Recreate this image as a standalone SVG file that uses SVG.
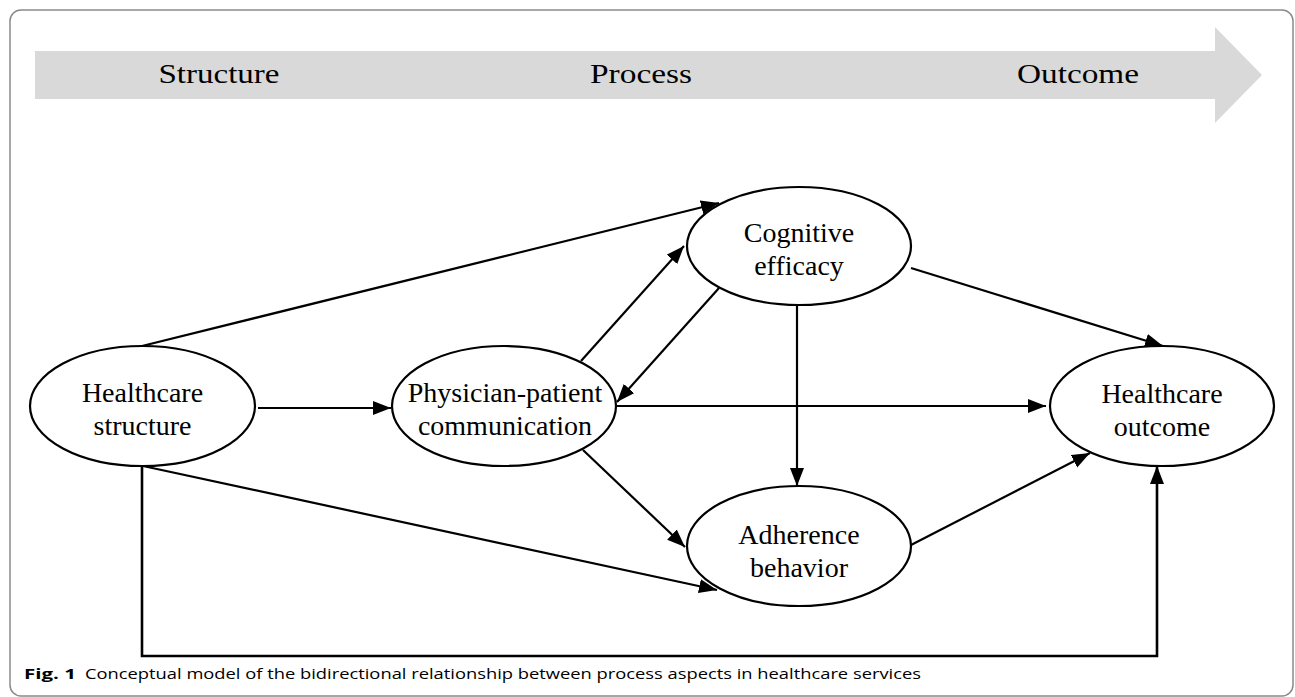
<svg xmlns="http://www.w3.org/2000/svg" width="1295" height="697" viewBox="0 0 1295 697">
  <style>
    .node ellipse { fill: #ffffff; stroke: #000000; stroke-width: 2.2; }
    .node text { font-family: "Liberation Serif", "Times New Roman", serif; font-size: 28px; fill: #000000; text-anchor: middle; }
    .stage { font-family: "Liberation Serif", "Times New Roman", serif; font-size: 28px; fill: #000000; text-anchor: middle; }
    .edge { fill: none; stroke: #000000; stroke-width: 2.2; }
    .cap { font-family: "Open Sans", "Noto Sans", sans-serif; font-size: 15px; fill: #000000; }
  </style>
  <defs>
    <marker id="arr" markerUnits="userSpaceOnUse" markerWidth="19" markerHeight="15" refX="18" refY="7" orient="auto">
      <path d="M0,0 L18,7 L0,14 z" fill="#000000"/>
    </marker>
  </defs>

  <rect x="0" y="0" width="1295" height="697" fill="#ffffff"/>
  <rect id="frame" x="10" y="10" width="1283" height="686" rx="11" ry="11" fill="none" stroke="#8a8a8a" stroke-width="1.5"/>

  <g id="stage-arrow">
    <polygon points="35,51 1215,51 1215,27 1262,75 1215,123 1215,99 35,99" fill="#d9d9d9"/>
    <text class="stage" x="219" y="83" textLength="121" lengthAdjust="spacingAndGlyphs">Structure</text>
    <text class="stage" x="641" y="83" textLength="102" lengthAdjust="spacingAndGlyphs">Process</text>
    <text class="stage" x="1078" y="83" textLength="122" lengthAdjust="spacingAndGlyphs">Outcome</text>
  </g>

  <g id="connectors">
    <line class="edge" x1="142" y1="346" x2="719" y2="203" marker-end="url(#arr)"/>
    <line class="edge" x1="258" y1="408" x2="391" y2="408" marker-end="url(#arr)"/>
    <line class="edge" x1="581" y1="361" x2="684" y2="246" marker-end="url(#arr)"/>
    <line class="edge" x1="719" y1="288" x2="617" y2="402" marker-end="url(#arr)"/>
    <line class="edge" x1="615" y1="406" x2="1046" y2="406" marker-end="url(#arr)"/>
    <line class="edge" x1="583" y1="450" x2="685" y2="547" marker-end="url(#arr)"/>
    <line class="edge" x1="143" y1="466" x2="717" y2="590" marker-end="url(#arr)"/>
    <line class="edge" x1="797" y1="305" x2="797" y2="486" marker-end="url(#arr)"/>
    <line class="edge" x1="911" y1="268" x2="1163" y2="346" marker-end="url(#arr)"/>
    <line class="edge" x1="911" y1="545" x2="1090" y2="453" marker-end="url(#arr)"/>
    <polyline class="edge" style="stroke-width:2.6" points="142,466 142,656 1157,656 1157,466" marker-end="url(#arr)"/>
  </g>

  <g id="healthcare-structure" class="node">
    <ellipse cx="142.5" cy="406" rx="112.5" ry="60"/>
    <text x="142.5" y="402">Healthcare</text>
    <text x="142.5" y="435">structure</text>
  </g>

  <g id="physician-patient-communication" class="node">
    <ellipse cx="504" cy="406" rx="112" ry="60"/>
    <text x="505" y="402">Physician-patient</text>
    <text x="505" y="435">communication</text>
  </g>

  <g id="cognitive-efficacy" class="node">
    <ellipse cx="799" cy="246" rx="112" ry="59"/>
    <text x="799" y="242">Cognitive</text>
    <text x="799" y="275">efficacy</text>
  </g>

  <g id="adherence-behavior" class="node">
    <ellipse cx="799" cy="546" rx="112" ry="60"/>
    <text x="799" y="544">Adherence</text>
    <text x="799" y="577">behavior</text>
  </g>

  <g id="healthcare-outcome" class="node">
    <ellipse cx="1162" cy="406" rx="112" ry="60"/>
    <text x="1162" y="403">Healthcare</text>
    <text x="1162" y="436">outcome</text>
  </g>

  <g id="caption">
    <text class="cap" x="24" y="679" font-weight="bold" textLength="52" lengthAdjust="spacingAndGlyphs">Fig. 1</text>
    <text class="cap" x="85" y="679" textLength="836" lengthAdjust="spacingAndGlyphs">Conceptual model of the bidirectional relationship between process aspects in healthcare services</text>
  </g>
</svg>
